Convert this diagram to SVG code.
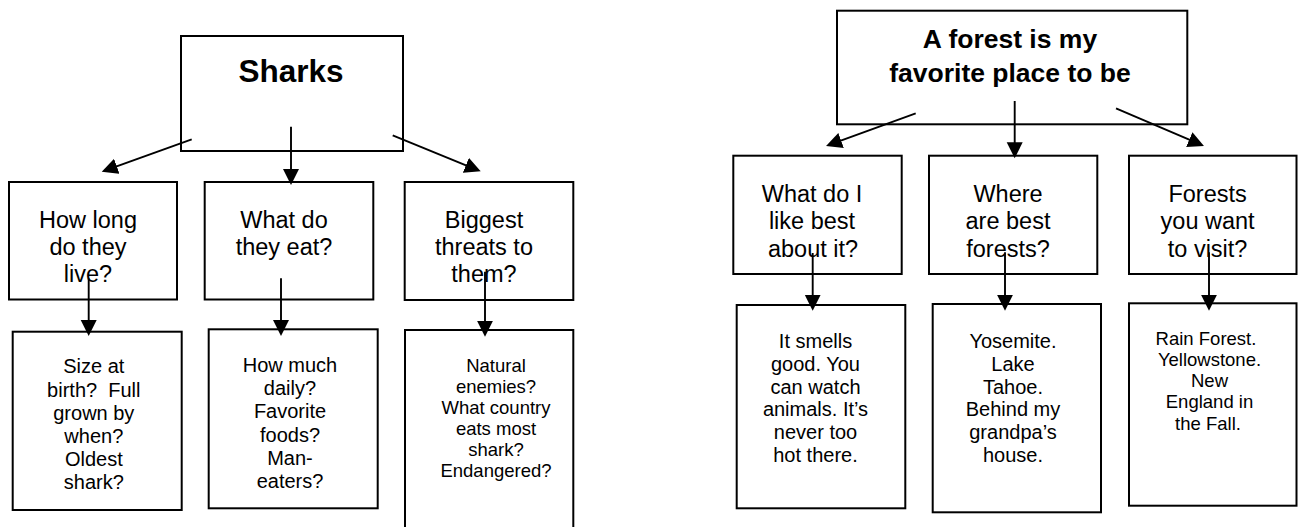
<svg xmlns="http://www.w3.org/2000/svg" width="1298" height="527" viewBox="0 0 1298 527">
<style>
  .box { fill: #fff; stroke: #000; stroke-width: 2; }
  .t { font-family: "Liberation Sans", Arial, sans-serif; fill: #000; text-anchor: middle; }
  .title { font-weight: bold; }
  .q { font-size: 23.5px; }
  .a { font-size: 20px; }
  .s { font-size: 18.5px; }
  .conn line { stroke: #000; stroke-width: 1.9; marker-end: url(#ah); }
</style>
<defs>
  <marker id="ah" markerUnits="userSpaceOnUse" markerWidth="17" markerHeight="17" viewBox="0 0 17 17" refX="12" refY="8.5" orient="auto">
    <path d="M0,0.5 L16,8.5 L0,16.5 z" fill="#000"/>
  </marker>
</defs>
<rect width="1298" height="527" fill="#fff"/>

<!-- Sharks diagram -->
<g id="sharks">
  <rect class="box" x="181" y="36" width="222" height="115"/>
  <text class="t title" x="291" y="82" font-size="31.5">Sharks</text>
</g>
<g id="how-long">
  <rect class="box" x="9" y="182" width="168" height="117.5"/>
  <text class="t q" x="88" y="227.5">How long</text>
  <text class="t q" x="88" y="254.5">do they</text>
  <text class="t q" x="88" y="281.5">live?</text>
</g>
<g id="what-eat">
  <rect class="box" x="204.7" y="182" width="168.6" height="117.5"/>
  <text class="t q" x="284" y="227.5">What do</text>
  <text class="t q" x="284" y="254.5">they eat?</text>
</g>
<g id="threats">
  <rect class="box" x="404.7" y="182" width="168.6" height="118"/>
  <text class="t q" x="484" y="227.5">Biggest</text>
  <text class="t q" x="484" y="254.5">threats to</text>
  <text class="t q" x="484" y="281.5">them?</text>
</g>
<g id="size">
  <rect class="box" x="12.7" y="331.7" width="169" height="178.3"/>
  <text class="t a" x="93.8" y="373.3">Size at</text>
  <text class="t a" x="93.8" y="396.5" xml:space="preserve">birth?  Full</text>
  <text class="t a" x="93.8" y="419.7">grown by</text>
  <text class="t a" x="93.8" y="442.7">when?</text>
  <text class="t a" x="93.8" y="465.7">Oldest</text>
  <text class="t a" x="93.8" y="488.7">shark?</text>
</g>
<g id="how-much">
  <rect class="box" x="208.7" y="329.3" width="169" height="179"/>
  <text class="t a" x="290" y="372.3">How much</text>
  <text class="t a" x="290" y="395.3">daily?</text>
  <text class="t a" x="290" y="418.3">Favorite</text>
  <text class="t a" x="290" y="441.5">foods?</text>
  <text class="t a" x="290" y="464.5">Man-</text>
  <text class="t a" x="290" y="487.5">eaters?</text>
</g>
<g id="enemies">
  <rect class="box" x="405" y="330" width="168.3" height="220"/>
  <text class="t s" x="496" y="371.7">Natural</text>
  <text class="t s" x="496" y="392.5">enemies?</text>
  <text class="t s" x="496" y="413.7">What country</text>
  <text class="t s" x="496" y="434.9">eats most</text>
  <text class="t s" x="496" y="456.1">shark?</text>
  <text class="t s" x="496" y="477.3">Endangered?</text>
</g>

<!-- Forest diagram -->
<g id="forest">
  <rect class="box" x="837" y="10.7" width="350.3" height="113.6"/>
  <text class="t title" x="1010" y="48.3" font-size="26.5">A forest is my</text>
  <text class="t title" x="1010" y="81.6" font-size="26.5">favorite place to be</text>
</g>
<g id="like-best">
  <rect class="box" x="733.3" y="155.7" width="168.4" height="118.3"/>
  <text class="t q" x="812" y="201.7">What do I</text>
  <text class="t q" x="812" y="229.2">like best</text>
  <text class="t q" x="813" y="256.7">about it?</text>
</g>
<g id="where">
  <rect class="box" x="929" y="155.7" width="168.3" height="118.3"/>
  <text class="t q" x="1008" y="201.7">Where</text>
  <text class="t q" x="1008" y="229.2">are best</text>
  <text class="t q" x="1008" y="256.7">forests?</text>
</g>
<g id="visit">
  <rect class="box" x="1129" y="155.7" width="167.5" height="118.3"/>
  <text class="t q" x="1207.6" y="201.7">Forests</text>
  <text class="t q" x="1207.6" y="229.2">you want</text>
  <text class="t q" x="1207.6" y="256.7">to visit?</text>
</g>
<g id="smells">
  <rect class="box" x="736.7" y="305" width="168.6" height="203.3"/>
  <text class="t a" x="815.5" y="348.3">It smells</text>
  <text class="t a" x="815.5" y="371">good. You</text>
  <text class="t a" x="815.5" y="393.7">can watch</text>
  <text class="t a" x="815.5" y="416.4">animals. It’s</text>
  <text class="t a" x="815.5" y="439.1">never too</text>
  <text class="t a" x="815.5" y="461.8">hot there.</text>
</g>
<g id="yosemite">
  <rect class="box" x="932.7" y="304" width="168.3" height="208.3"/>
  <text class="t a" x="1013" y="348.3">Yosemite.</text>
  <text class="t a" x="1013" y="371">Lake</text>
  <text class="t a" x="1013" y="393.7">Tahoe.</text>
  <text class="t a" x="1013" y="416.4">Behind my</text>
  <text class="t a" x="1013" y="439.1">grandpa’s</text>
  <text class="t a" x="1013" y="461.8">house.</text>
</g>
<g id="rain-forest">
  <rect class="box" x="1129" y="303.3" width="167.5" height="202.4"/>
  <text class="t s" x="1206" y="345">Rain Forest.</text>
  <text class="t s" x="1209.5" y="365.8">Yellowstone.</text>
  <text class="t s" x="1209.5" y="387">New</text>
  <text class="t s" x="1209.5" y="408.3">England in</text>
  <text class="t s" x="1208" y="429.6">the Fall.</text>
</g>

<!-- Connectors -->
<g id="connectors" class="conn">
  <line x1="191.7" y1="139.3" x2="105.5" y2="170.3"/>
  <line x1="291" y1="126.7" x2="291" y2="181"/>
  <line x1="392.7" y1="135.3" x2="477" y2="169.8"/>
  <line x1="88.7" y1="278.3" x2="88.7" y2="332"/>
  <line x1="281" y1="278.3" x2="281" y2="332"/>
  <line x1="485" y1="271.7" x2="485" y2="332.7"/>
  <line x1="915.7" y1="113.3" x2="829.8" y2="144.6"/>
  <line x1="1014.7" y1="101" x2="1014.7" y2="154.3"/>
  <line x1="1116" y1="108.3" x2="1200.3" y2="144.4"/>
  <line x1="812.7" y1="253" x2="812.7" y2="306.7"/>
  <line x1="1005" y1="252.3" x2="1005" y2="306.7"/>
  <line x1="1209" y1="252.3" x2="1209" y2="306.7"/>
</g>
</svg>
